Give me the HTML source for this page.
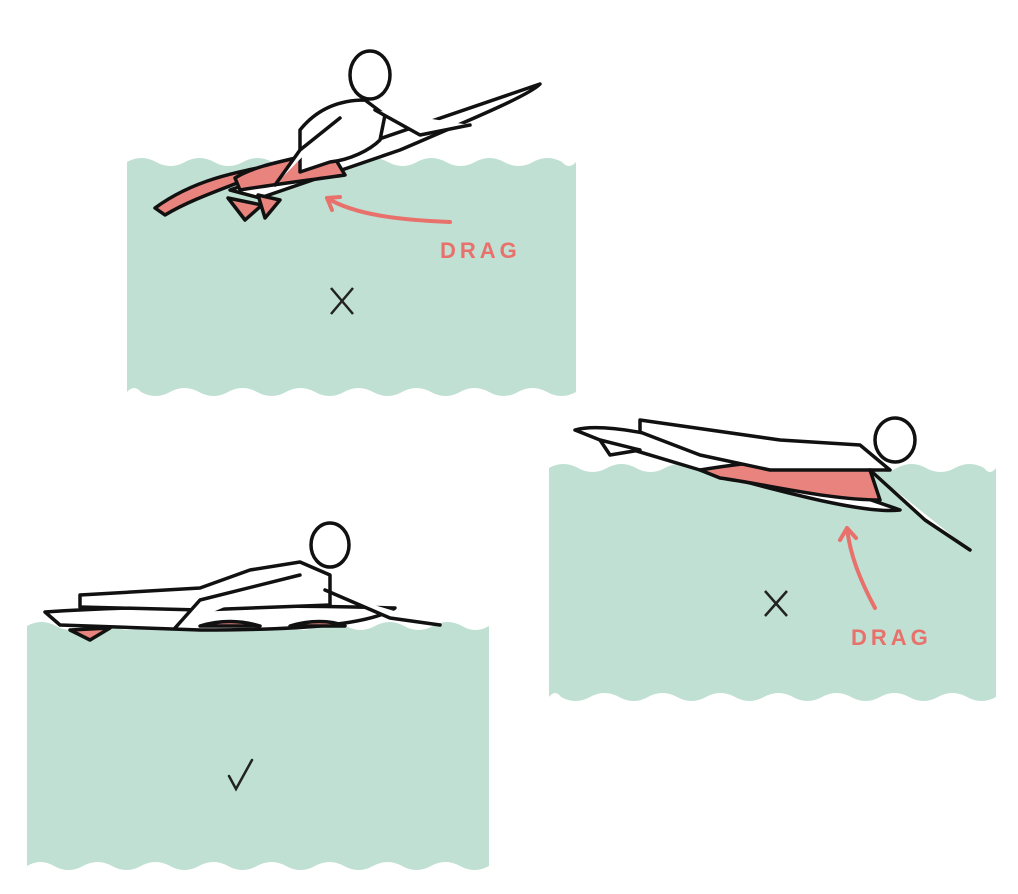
<!DOCTYPE html>
<html><head><meta charset="utf-8"><style>
html,body{margin:0;padding:0;background:#fff;width:1018px;height:894px;overflow:hidden}
svg{display:block}
text{font-family:"Liberation Sans",sans-serif;font-weight:bold;letter-spacing:4px}
</style></head><body>
<svg id="s" width="1018" height="894" viewBox="0 0 1018 894">
<g id="water"></g>
<g stroke="#111" stroke-width="3.5" fill="#fff" stroke-linejoin="round" stroke-linecap="round">
<path d="M155 208 C200 175 250 170 300 160 L250 178 C220 190 190 200 165 215 Z" fill="#e8847d"/>
<path d="M230 190 L540 84 C530 95 470 120 400 150 L260 198 Z"/>
<path d="M235 178 C255 165 290 160 330 150 L345 175 C310 180 270 185 240 190 Z" fill="#e8847d"/>
<path d="M300 130 C320 105 345 100 365 100 L385 115 L380 140 C370 150 350 160 330 162 L300 172 Z"/>
<path d="M340 118 L300 150 L275 185"/>
<path d="M375 110 L420 135 L470 125"/>
<ellipse cx="370" cy="75" rx="20" ry="24"/>
<path d="M228 198 L245 220 L262 205 Z" fill="#e8847d"/>
<path d="M258 195 L265 218 L280 200 Z" fill="#e8847d"/>
</g>
<g stroke="#111" stroke-width="3.5" fill="#fff" stroke-linejoin="round" stroke-linecap="round">
<path d="M575 430 C610 420 700 440 900 510 C860 515 760 485 700 470 L600 440 Z"/>
<path d="M700 470 C760 460 820 455 870 470 L880 500 C830 500 770 485 720 478 Z" fill="#e8847d"/>
<path d="M640 420 L780 440 L860 445 L890 470 L770 470 L700 455 L640 432 Z"/>
<path d="M870 470 L925 520 L970 550"/>
<ellipse cx="895" cy="440" rx="20" ry="22"/>
<path d="M600 440 L610 455 L640 450 Z" fill="#fff"/>
</g>
<g stroke="#111" stroke-width="3.5" fill="#fff" stroke-linejoin="round" stroke-linecap="round">
<path d="M45 612 C150 605 300 605 395 608 C370 625 300 630 200 630 L60 625 Z"/>
<path d="M70 630 L90 640 L110 628 Z" fill="#e8847d"/>
<path d="M200 626 C220 620 240 620 260 626 Z" fill="#e8847d"/>
<path d="M290 626 C310 620 330 620 345 626 Z" fill="#e8847d"/>
<path d="M80 595 L200 588 L250 570 L300 562 L330 575 L330 605 L200 610 L80 607 Z"/>
<path d="M300 575 L200 600 L175 628"/>
<path d="M325 590 L390 618 L440 625"/>
<ellipse cx="330" cy="545" rx="19" ry="22"/>
</g>
<text x="440" y="258" fill="#e8716b" font-size="22">DRAG</text>
<text x="851" y="645" fill="#e8716b" font-size="22">DRAG</text>
<path d="M450 222 C400 220 355 215 327 198 M327 198 L340 197 M327 198 L332 210" stroke="#e8716b" stroke-width="4" fill="none" stroke-linecap="round"/>
<path d="M875 608 C860 580 850 555 847 528 M847 528 L840 540 M847 528 L856 538" stroke="#e8716b" stroke-width="4" fill="none" stroke-linecap="round"/>
<path d="M331 288 L353 314 M353 288 L331 314" stroke="#222" stroke-width="2.5"/>
<path d="M765 591 L787 616 M787 591 L765 616" stroke="#222" stroke-width="2.5"/>
<path d="M229 776 L236 789 L252 760" stroke="#222" stroke-width="2.5" fill="none" stroke-linecap="round"/>
</svg>
<script>
const g=document.getElementById('water');
function wave(x0,x1,y0,y1,name){
  const per=58,amp=4;let d='M'+x0+' '+y0;
  for(let x=x0;x<x1;x+=per/2){const nx=Math.min(x+per/2,x1);const up=((x-x0)/(per/2))%2===0;d+=' Q'+(x+nx)/2+' '+(y0+(up?-amp*2:amp*2))+' '+nx+' '+y0;}
  d+=' L'+x1+' '+y1;
  for(let x=x1;x>x0;x-=per/2){const nx=Math.max(x-per/2,x0);const up=((x1-x)/(per/2))%2===0;d+=' Q'+(x+nx)/2+' '+(y1+(up?amp*2:-amp*2))+' '+nx+' '+y1;}
  d+=' Z';
  const p=document.createElementNS('http://www.w3.org/2000/svg','path');
  p.setAttribute('d',d);p.setAttribute('fill','#bfe0d3');
  
  
  g.appendChild(p);
}
wave(127,576,162,392,'water-panel-1');
wave(549,996,468,697,'water-panel-2');
wave(27,489,626,866,'water-panel-3');
</script>
</body></html>
